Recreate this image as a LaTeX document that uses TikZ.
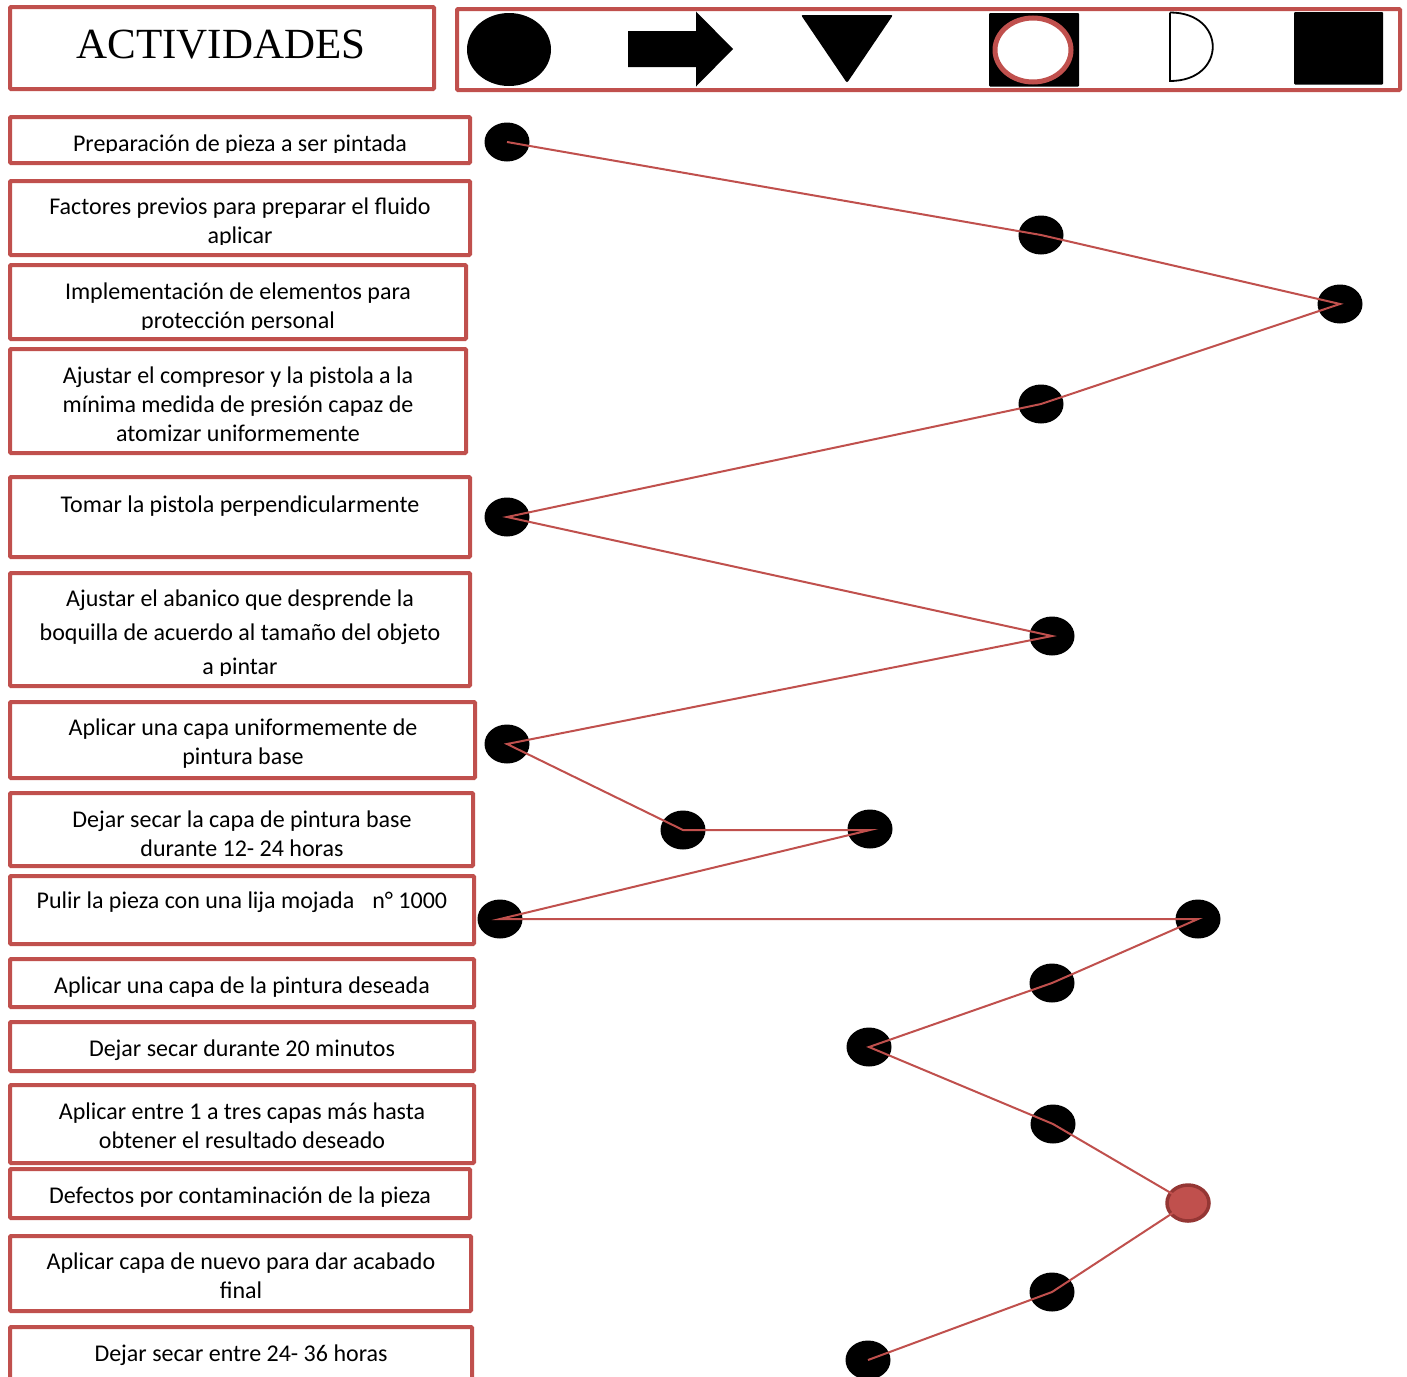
\documentclass[tikz,border=0pt]{standalone}
\usepackage{fontspec}
\setmainfont{Carlito}
\newfontfamily\headfont{Liberation Serif}
\usetikzlibrary{shapes.geometric}
\definecolor{boxred}{HTML}{C0504D}
\definecolor{darkred}{HTML}{943634}
\tikzset{
  actbox/.style={draw=boxred, line width=4pt, rounded corners=1pt},
  % texts are placed by the baseline of their last line
  txt/.style={font=\fontsize{24}{29}\selectfont, align=center, inner sep=0pt, anchor=base},
  wide/.style={font=\fontsize{24}{34}\selectfont},
  dot/.style={ellipse, fill=black, minimum width=45pt, minimum height=39pt, inner sep=0pt},
  reddot/.style={ellipse, fill=boxred, draw=darkred, line width=3.5pt, minimum width=42pt, minimum height=36pt, inner sep=0pt},
  link/.style={draw=boxred, line width=2pt}
}
\begin{document}
\begin{tikzpicture}[x=1pt,y=-1pt]
\useasboundingbox (0,0) rectangle (1407,1376);
\fill[white] (0,0) rectangle (1407,1376);

% header
\draw[actbox] (10,7) rectangle (434,89);
\node[inner sep=0pt, anchor=base, font=\headfont\fontsize{43}{43}\selectfont] (head) at (221,58) {ACTIVIDADES};
\draw[actbox] (457,9) rectangle (1400,90);

% symbol legend
\fill[black] (509,49.5) ellipse [x radius=42, y radius=36.5];
\fill[black] (628,31) -- (696,31) -- (696,11.5) -- (733,49) -- (696,86.5) -- (696,67) -- (628,67) -- cycle;
\fill[black, rounded corners=2pt] (801,15) -- (893,15) -- (847,83) -- cycle;
\fill[black, rounded corners=1pt] (989,13) rectangle (1079,86.5);
\draw[boxred, fill=white, line width=5pt] (1033,50) ellipse [x radius=38, y radius=32];
\draw[black, line width=1.8pt] (1170,12.5) -- (1170,81) .. controls (1227,81) and (1227,12.5) .. (1170,12.5);
\fill[black, rounded corners=1pt] (1294,12) rectangle (1383,84.5);

% activity boxes
\draw[actbox] (10,117) rectangle (470,163);
\draw[actbox] (10,181) rectangle (470,255);
\draw[actbox] (10,265) rectangle (466,339);
\draw[actbox] (10,349) rectangle (466,453);
\draw[actbox] (10,477) rectangle (470,557);
\draw[actbox] (10,573) rectangle (470,686);
\draw[actbox] (10,702) rectangle (475,778);
\draw[actbox] (10,793) rectangle (473,866);
\draw[actbox] (10,876) rectangle (474,944);
\draw[actbox] (10,959) rectangle (474,1007);
\draw[actbox] (10,1022) rectangle (474,1071);
\draw[actbox] (10,1085) rectangle (474,1163);
\draw[actbox] (10,1169) rectangle (470,1218);
\draw[actbox] (10,1236) rectangle (471,1311);
\draw[actbox] (10,1327) rectangle (472,1400);

% activity texts
\begin{scope}
  \clip (12,119) rectangle (468,152);
  \node[txt] (t1) at (240,151) {Preparación de pieza a ser pintada};
\end{scope}
\begin{scope}
  \clip (12,183) rectangle (468,244.5);
  \node[txt] (t2) at (240,243.5) {Factores previos para preparar el fluido\\aplicar};
\end{scope}
\begin{scope}
  \clip (12,267) rectangle (464,329);
  \node[txt] (t3) at (238,328) {Implementación de elementos para\\protección personal};
\end{scope}
\node[txt] (t4) at (238,441) {Ajustar el compresor y la pistola a la\\mínima medida de presión capaz de\\atomizar uniformemente};
\node[txt] (t5) at (240,512) {Tomar la pistola perpendicularmente};
\begin{scope}
  \clip (12,575) rectangle (468,675.5);
  \node[txt, wide] (t6) at (240,674) {Ajustar el abanico que desprende la\\boquilla de acuerdo al tamaño del objeto\\a pintar};
\end{scope}
\node[txt] (t7) at (243,764) {Aplicar una capa uniformemente de\\pintura base};
\node[txt] (t8) at (242,856) {Dejar secar la capa de pintura base\\durante 12- 24 horas};
\node[txt] (t9) at (242,908) {Pulir la pieza con una lija mojada\hspace{18pt}n° 1000};
\node[txt] (t10) at (242,993) {Aplicar una capa de la pintura deseada};
\node[txt] (t11) at (242,1056) {Dejar secar durante 20 minutos};
\node[txt] (t12) at (242,1148) {Aplicar entre 1 a tres capas más hasta\\obtener el resultado deseado};
\node[txt] (t13) at (240,1203) {Defectos por contaminación de la pieza};
\node[txt] (t14) at (241,1298) {Aplicar capa de nuevo para dar acabado\\final};
\node[txt] (t15) at (241,1361) {Dejar secar entre 24- 36 horas};

% process chart symbols
\node[dot] (d1) at (507,142) {};
\node[dot] (d2) at (1041,235) {};
\node[dot] (d3) at (1340,304) {};
\node[dot] (d4) at (1041,404) {};
\node[dot] (d5) at (507,517) {};
\node[dot] (d6) at (1052,636) {};
\node[dot] (d7) at (507,744) {};
\node[dot] (d8) at (683,830) {};
\node[dot] (d9) at (870,829) {};
\node[dot] (d10) at (500,919) {};
\node[dot] (d11) at (1198,919) {};
\node[dot] (d12) at (1052,983) {};
\node[dot] (d13) at (869,1047) {};
\node[dot] (d14) at (1053,1124) {};
\node[reddot] (d15) at (1188,1203) {};
\node[dot] (d16) at (1052,1292) {};
\node[dot] (d17) at (868,1360) {};

% sequence of the process
\draw[link] (d1.center) -- (d2.center) -- (d3.center) -- (d4.center) -- (d5.center)
  -- (d6.center) -- (d7.center) -- (d8.center) -- (d8.center -| d9.center) -- (d10.center)
  -- (d11.center) -- (d12.center) -- (d13.center) -- (d14.center) -- (d15.center)
  -- (d16.center) -- (d17.center);
\end{tikzpicture}
\end{document}
